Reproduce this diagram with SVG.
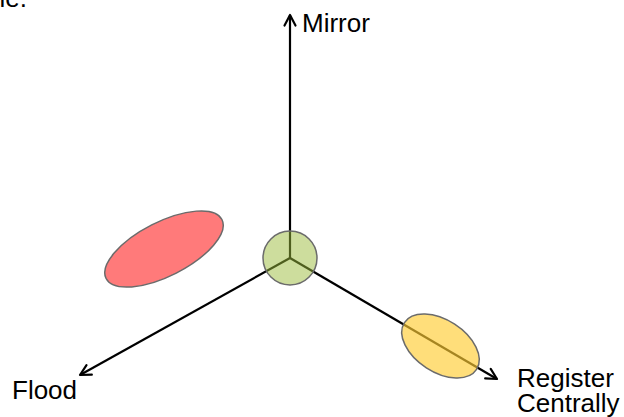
<svg xmlns="http://www.w3.org/2000/svg" width="624" height="417" viewBox="0 0 624 417">
  <defs>
    <marker id="arrow" viewBox="0 0 14 14" refX="12" refY="7" markerWidth="14" markerHeight="14" markerUnits="userSpaceOnUse" orient="auto">
      <path d="M1.5,1.5 L12,7 L1.5,12.5" fill="none" stroke="#000" stroke-width="2.2" stroke-linecap="round" stroke-linejoin="round"/>
    </marker>
  </defs>
  <style>
    .axis { stroke: #000; stroke-width: 2.2; fill: none; marker-end: url(#arrow); }
    .label { font-family: "Liberation Sans", Arial, sans-serif; font-size: 26px; fill: #000; }
    .blob { stroke: #6b6b6b; stroke-width: 1.5; }
  </style>
  <rect width="624" height="417" fill="#fff"/>
  <text class="label" x="27" y="7" text-anchor="end">le.</text>

  <g id="connectors">
    <line class="axis" x1="290" y1="258" x2="290" y2="15"/>
    <line class="axis" x1="290" y1="258" x2="80" y2="375"/>
    <line class="axis" x1="290" y1="258" x2="497" y2="379"/>
  </g>

  <g id="risk-red">
    <ellipse class="blob" cx="164" cy="249" rx="65" ry="27" transform="rotate(-27 164 249)" fill="#ff7a7a"/>
  </g>
  <g id="origin">
    <circle class="blob" cx="290" cy="258" r="27" fill="#9bbb3b" fill-opacity="0.5"/>
  </g>
  <g id="risk-yellow">
    <ellipse class="blob" cx="440.5" cy="346" rx="43" ry="26" transform="rotate(33 440.5 346)" fill="#ffcc33" fill-opacity="0.65"/>
  </g>

  <g id="label-mirror">
    <text class="label" x="302" y="32" font-size="27">Mirror</text>
  </g>
  <g id="label-flood">
    <text class="label" x="12" y="399">Flood</text>
  </g>
  <g id="label-register">
    <text class="label" x="517" y="387">Register</text>
    <text class="label" x="517" y="412">Centrally</text>
  </g>
</svg>
